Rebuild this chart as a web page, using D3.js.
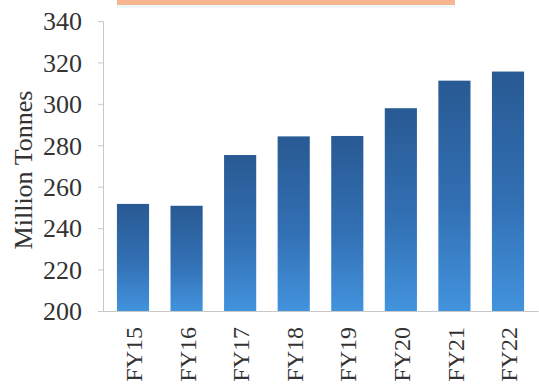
<!DOCTYPE html>
<html>
<head>
<meta charset="utf-8">
<script src="https://cdn.jsdelivr.net/npm/d3@7"></script>
<style>
  html, body { margin: 0; padding: 0; background: #fff; }
  svg { display: block; }
  text { font-family: "Liberation Serif", "Times New Roman", serif; fill: #333; }
</style>
</head>
<body>
<svg id="chart" width="539" height="385"></svg>
<script>
// Annual volumes, million tonnes
const years = ["FY15", "FY16", "FY17", "FY18", "FY19", "FY20", "FY21", "FY22"];
const volumes = [251.7, 250.8, 275.3, 284.3, 284.5, 297.9, 311.2, 315.6];
const yTicks = [200, 220, 240, 260, 280, 300, 320, 340];

const svg = d3.select("#chart");

const x = d3.scaleBand()
  .domain(years)
  .range([103, 538])
  .paddingInner(0.4)
  .paddingOuter(0.26);

const y = d3.scaleLinear()
  .domain([200, 340])
  .range([311, 21]);

// Per-bar vertical gradient: deep blue at the top, brighter blue at the base
const defs = svg.append("defs");
const grad = defs.append("linearGradient")
  .attr("id", "barFill")
  .attr("x1", 0).attr("y1", 0).attr("x2", 0).attr("y2", 1);
grad.append("stop").attr("offset", "0%").attr("stop-color", "#285a93");
grad.append("stop").attr("offset", "55%").attr("stop-color", "#3270b4");
grad.append("stop").attr("offset", "100%").attr("stop-color", "#4293dd");

// Header band along the top edge
svg.append("rect")
  .attr("x", 117).attr("y", -20)
  .attr("width", 338).attr("height", 25)
  .attr("fill", "#f7b68f");
svg.append("rect")
  .attr("x", 117).attr("y", 5)
  .attr("width", 338).attr("height", 3)
  .attr("fill", "#eef8fb");

// Y axis
const yAxis = d3.axisLeft(y)
  .tickValues(yTicks)
  .tickSize(5)
  .tickPadding(16)
  .tickFormat(d3.format("d"));

const gy = svg.append("g")
  .attr("transform", "translate(103,0)")
  .call(yAxis);
gy.select(".domain").attr("stroke", "#c8c8c8");
gy.selectAll(".tick line").attr("stroke", "#c8c8c8");
gy.selectAll(".tick text")
  .attr("font-size", 26)
  .attr("fill", "#333")
  .attr("dy", "0.34em")
  .style("font-family", "'Liberation Serif', serif");

// Y axis title
svg.append("text")
  .attr("transform", "translate(32,170) rotate(-90)")
  .attr("text-anchor", "middle")
  .attr("font-size", 26)
  .text("Million Tonnes");

// Bars
svg.append("g")
  .selectAll("rect")
  .data(years.map((yr, i) => ({ yr, v: volumes[i] })))
  .join("rect")
  .attr("x", d => x(d.yr))
  .attr("y", d => y(d.v))
  .attr("width", x.bandwidth())
  .attr("height", d => y(200) - y(d.v))
  .attr("fill", "url(#barFill)");

// X axis baseline with rotated year labels
const xAxis = d3.axisBottom(x).tickSize(0).tickPadding(0);
const gx = svg.append("g")
  .attr("transform", "translate(0,311)")
  .call(xAxis);
gx.select(".domain").attr("stroke", "#c8c8c8");
gx.selectAll(".tick text")
  .attr("font-size", 24)
  .attr("fill", "#333")
  .style("font-family", "'Liberation Serif', serif")
  .attr("text-anchor", "end")
  .attr("transform", "translate(1,16) rotate(-90)")
  .attr("x", 0)
  .attr("y", 0)
  .attr("dy", "0.34em");
</script>
</body>
</html>
